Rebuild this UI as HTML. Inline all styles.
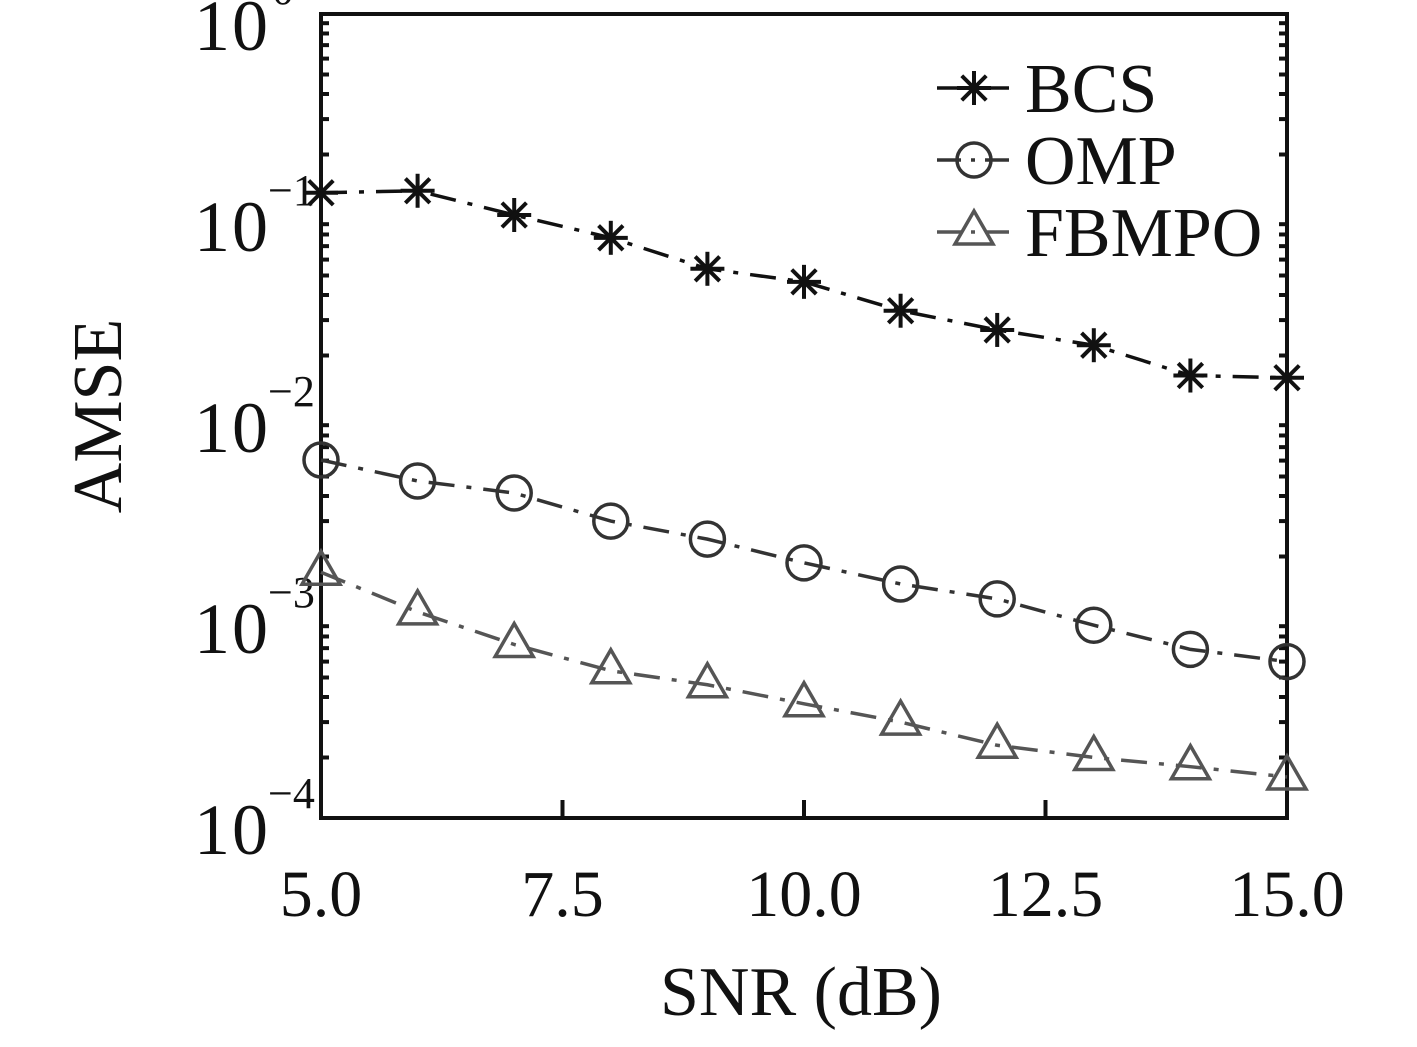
<!DOCTYPE html>
<html><head><meta charset="utf-8"><style>
body{margin:0;background:#fff}
text{font-family:"Liberation Serif",serif}
</style></head><body>
<svg id="chart" width="1417" height="1042" viewBox="0 0 1417 1042" xmlns="http://www.w3.org/2000/svg">
<g id="axes"></g><g id="series"></g><g id="legend"></g>
</svg>
<script>
const snr=[5,6,7,8,9,10,11,12,13,14,15];
const bcs=[0.129,0.132,0.100,0.077,0.054,0.0465,0.0334,0.0268,0.0225,0.0159,0.0155];
const omp=[0.00604,0.00475,0.00414,0.0030,0.00244,0.00186,0.00146,0.00123,0.00091,0.00069,0.00060];
const fbmpo=[0.00167,0.00106,0.00073,0.00054,0.00046,0.00037,0.00030,0.00023,0.00020,0.00018,0.00016];
const xTicks=[5,7.5,10,12.5,15];
const xTickLabels=["5.0","7.5","10.0","12.5","15.0"];
const yExps=[0,-1,-2,-3,-4];

const NS="http://www.w3.org/2000/svg";
const L=321,R=1287,T=14,B=818;
const xs=v=>L+(v-5)/(15-5)*(R-L);
const ys=v=>T+(-Math.log10(v))/4*(B-T);
function mk(tag,attrs,parent){const e=document.createElementNS(NS,tag);for(const k in attrs)e.setAttribute(k,attrs[k]);parent.appendChild(e);return e;}
const ax=document.getElementById('axes'),sg=document.getElementById('series'),lg=document.getElementById('legend');

const frame=mk('rect',{x:L,y:T,width:R-L,height:B-T,fill:'none',stroke:'#111','stroke-width':4},ax);


for(let d=0;d<4;d++){for(let m=2;m<=9;m++){const v=Math.pow(10,-(d+1))*m;const y=ys(v);
 mk('line',{x1:L,y1:y,x2:L+8,y2:y,stroke:'#111','stroke-width':4},ax);
 mk('line',{x1:R,y1:y,x2:R-8,y2:y,stroke:'#111','stroke-width':4},ax);}}
yExps.forEach(e=>{const y=ys(Math.pow(10,e));
 const t=mk('text',{x:270,y:y+36,'font-size':72,'text-anchor':'end',fill:'#111','letter-spacing':'2'},ax);
 
 
 t.textContent='10';
 const s=mk('text',{x:e===0?272:268,y:y-10,'font-size':44,'text-anchor':'start',fill:'#111'},ax);
 s.textContent=e===0?'0':'\u2212'+(-e);
});
xTicks.forEach((v,i)=>{const x=xs(v);
 mk('line',{x1:x,y1:B,x2:x,y2:B-18,stroke:'#111','stroke-width':4},ax);
 const t=mk('text',{x:x,y:916,'font-size':66,'text-anchor':'middle',fill:'#111'},ax);
 
 
 t.textContent=xTickLabels[i];});
const xt=mk('text',{x:801,y:1015,'font-size':70,'text-anchor':'middle',fill:'#111'},ax);


xt.textContent='SNR (dB)';
const yt=mk('text',{x:0,y:0,'font-size':70,'text-anchor':'middle',fill:'#111',transform:'translate(121,416) rotate(-90)'},ax);


yt.textContent='AMSE';

function marker(kind,x,y,color,parent){
 if(kind==='star'){const g=mk('g',{stroke:color,'stroke-width':4},parent);const r=17;
  mk('line',{x1:x-r,y1:y,x2:x+r,y2:y},g);mk('line',{x1:x,y1:y-r,x2:x,y2:y+r},g);
  const d=r*0.72;mk('line',{x1:x-d,y1:y-d,x2:x+d,y2:y+d},g);mk('line',{x1:x-d,y1:y+d,x2:x+d,y2:y-d},g);return g;}
 if(kind==='circle')return mk('circle',{cx:x,cy:y,r:17,fill:'none',stroke:color,'stroke-width':3.5},parent);
 return mk('polygon',{points:`${x},${y-21} ${x-19},${y+12} ${x+19},${y+12}`,fill:'none',stroke:color,'stroke-width':3.5},parent);
}
const series=[{n:'BCS',d:bcs,c:'#111',m:'star'},{n:'OMP',d:omp,c:'#333',m:'circle'},{n:'FBMPO',d:fbmpo,c:'#555',m:'tri'}];
series.forEach((s,si)=>{
 const g=mk('g',{},sg);
 
 
 mk('polyline',{points:snr.map((v,i)=>xs(v)+','+ys(s.d[i])).join(' '),fill:'none',stroke:s.c,'stroke-width':3.5,'stroke-dasharray':'26 12 5 12'},g);
 snr.forEach((v,i)=>{const p=marker(s.m,xs(v),ys(s.d[i]),s.c,g);
  
  });
 const ly=88+si*72;
 const le=mk('g',{},lg);
 
 
 mk('line',{x1:937,y1:ly,x2:1012,y2:ly,stroke:s.c,'stroke-width':3.5,'stroke-dasharray':'24 10 4 10'},le);
 marker(s.m,974,ly,s.c,le);
 const t=mk('text',{x:1025,y:ly+24,'font-size':70,fill:'#111'},le);
 t.textContent=s.n;
});
</script>
</body></html>
